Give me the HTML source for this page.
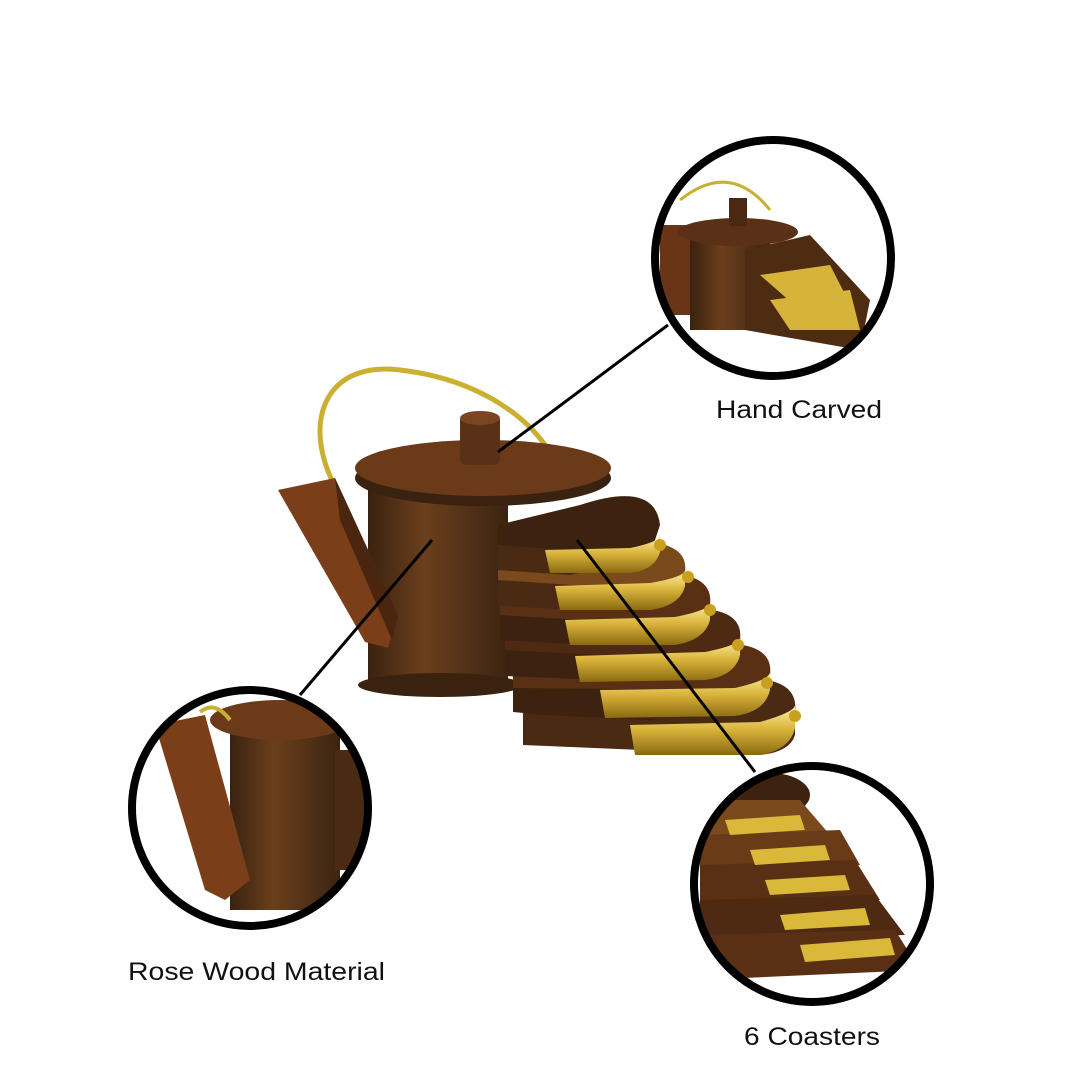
<!DOCTYPE html>
<html><head><style>
html,body{margin:0;padding:0;background:#fff;}
svg{display:block}
text{font-family:"Liberation Sans",sans-serif;font-size:25px;fill:#111}
</style></head><body>
<svg width="1080" height="1080" viewBox="0 0 1080 1080">
<defs>
<linearGradient id="wood" x1="0" x2="1" y1="0" y2="0">
<stop offset="0" stop-color="#3a2210"/><stop offset="0.4" stop-color="#6b3f1c"/><stop offset="1" stop-color="#3b2412"/></linearGradient>
<linearGradient id="gold" x1="0" x2="0" y1="0" y2="1">
<stop offset="0" stop-color="#fff4a0"/><stop offset="0.5" stop-color="#d8b23a"/><stop offset="1" stop-color="#8a6a10"/></linearGradient>
<clipPath id="c1"><circle cx="773" cy="258" r="118"/></clipPath>
<clipPath id="c2"><circle cx="250" cy="808" r="118"/></clipPath>
<clipPath id="c3"><circle cx="812" cy="884" r="118"/></clipPath>
</defs>
<rect width="1080" height="1080" fill="#fff"/>
<!-- handle -->
<path d="M340,495 C300,430 320,360 400,370 C470,378 520,410 545,445" fill="none" stroke="#c9b030" stroke-width="5"/>
<!-- body -->
<rect x="368" y="480" width="140" height="205" fill="url(#wood)"/>
<ellipse cx="440" cy="685" rx="82" ry="12" fill="#3a2210"/>
<!-- spout -->
<path d="M278,490 L335,478 L398,615 L388,648 L365,642 Z" fill="#7a3e18"/>
<path d="M335,478 L398,615 L392,640 L340,520 Z" fill="#4a2510"/>
<!-- lid -->
<ellipse cx="483" cy="478" rx="128" ry="28" fill="#3a2210"/>
<ellipse cx="483" cy="468" rx="128" ry="28" fill="#6b3a18"/>
<rect x="460" y="415" width="40" height="50" rx="6" fill="#5a3016"/>
<ellipse cx="480" cy="418" rx="20" ry="7" fill="#7a4520"/>
<!-- coasters: bottom first -->
<g>
<!-- i=5 y=680 L=523 R=795 -->
<path d="M523,690 L725,680 Q800,672 795,712 L785,738 L523,738 Z" fill="#4a2a12"/>
<path d="M523,712 L760,712 Q795,705 795,712 L795,735 Q790,752 760,755 L523,745 Z" fill="#4a2a12"/>
<path d="M630,725 L760,722 Q795,712 795,705 L795,728 Q790,750 760,755 L635,755 Z" fill="url(#gold)"/>
<!-- i=4 -->
<path d="M513,655 L700,645 Q775,637 770,675 L760,700 L513,700 Z" fill="#5a3015"/>
<path d="M513,680 L513,712 L545,715 L650,720 L760,700 L760,690 L513,688 Z" fill="#3e2210"/>
<path d="M600,690 L735,688 Q770,680 770,672 L770,690 Q765,712 735,716 L605,718 Z" fill="url(#gold)"/>
<!-- i=3 -->
<path d="M505,620 L670,610 Q745,602 740,640 L730,660 L505,662 Z" fill="#4e2a12"/>
<path d="M505,645 L505,676 L600,680 L730,662 L505,650 Z" fill="#3e2210"/>
<path d="M575,656 L705,652 Q740,645 740,638 L740,655 Q735,676 705,680 L580,682 Z" fill="url(#gold)"/>
<!-- i=2 -->
<path d="M500,585 L640,575 Q715,567 710,605 L700,625 L500,627 Z" fill="#5a3015"/>
<path d="M500,610 L500,640 L590,645 L700,627 L500,615 Z" fill="#3e2210"/>
<path d="M565,620 L675,617 Q710,610 710,603 L710,620 Q705,640 675,645 L570,645 Z" fill="url(#gold)"/>
<!-- i=1 -->
<path d="M498,552 L610,543 Q690,535 685,572 L675,590 L498,592 Z" fill="#7a4a1c"/>
<path d="M498,575 L498,606 L580,610 L675,592 L498,580 Z" fill="#4a2a12"/>
<path d="M555,586 L650,583 Q685,577 685,570 L685,586 Q680,606 650,610 L560,610 Z" fill="url(#gold)"/>
<!-- i=0 -->
<path d="M498,525 L580,505 Q655,480 660,525 L650,555 L498,558 Z" fill="#3e2210"/>
<path d="M498,540 L498,570 L570,575 L650,556 L498,545 Z" fill="#4a2a12"/>
<path d="M545,550 L630,548 Q660,542 660,535 L660,552 Q655,570 630,573 L550,573 Z" fill="url(#gold)"/>
</g>
<!-- knobs -->
<g fill="#c9a020">
<circle cx="660" cy="545" r="6"/><circle cx="688" cy="577" r="6"/><circle cx="710" cy="610" r="6"/>
<circle cx="738" cy="645" r="6"/><circle cx="767" cy="683" r="6"/><circle cx="795" cy="716" r="6"/></g>
<!-- connector lines -->
<line x1="498" y1="452" x2="668" y2="325" stroke="#000" stroke-width="3"/>
<line x1="300" y1="695" x2="432" y2="540" stroke="#000" stroke-width="3"/>
<line x1="577" y1="540" x2="755" y2="772" stroke="#000" stroke-width="3"/>
<!-- circle 1 -->
<g clip-path="url(#c1)">
<rect x="660" y="225" width="30" height="90" fill="#6a3516"/>
<rect x="690" y="230" width="80" height="100" fill="url(#wood)"/>
<ellipse cx="738" cy="232" rx="60" ry="14" fill="#5a3016"/>
<rect x="729" y="198" width="18" height="28" fill="#4a2812"/>
<path d="M745,250 L810,235 L870,300 L860,350 L745,330 Z" fill="#4e2c12"/>
<path d="M760,275 L830,265 L848,300 L800,310 Z M770,300 L850,290 L860,330 L790,330 Z" fill="#d6b43a"/>
<path d="M680,200 Q730,160 770,210" fill="none" stroke="#c9b030" stroke-width="3"/>
</g>
<circle cx="773" cy="258" r="118" fill="none" stroke="#000" stroke-width="8"/>
<!-- circle 2 -->
<g clip-path="url(#c2)">
<rect x="230" y="720" width="110" height="190" fill="url(#wood)"/>
<ellipse cx="280" cy="720" rx="70" ry="20" fill="#6b3a18"/>
<path d="M155,725 L205,715 L250,880 L225,900 L205,890 Z" fill="#7a3e18"/>
<rect x="335" y="750" width="40" height="120" fill="#4a2a12"/>
<path d="M200,712 Q215,700 230,720" fill="none" stroke="#c9b030" stroke-width="4"/>
</g>
<circle cx="250" cy="808" r="118" fill="none" stroke="#000" stroke-width="8"/>
<!-- circle 3 -->
<g clip-path="url(#c3)">
<ellipse cx="770" cy="795" rx="40" ry="22" fill="#3e2210"/>
<path d="M700,800 L800,800 L830,835 L700,840 Z" fill="#7a4a1c"/>
<path d="M700,835 L840,830 L860,865 L700,870 Z" fill="#6a3b17"/>
<path d="M700,865 L855,860 L880,900 L700,905 Z" fill="#5a3015"/>
<path d="M700,900 L875,895 L905,935 L700,940 Z" fill="#4e2a12"/>
<path d="M700,935 L895,930 L920,970 L700,980 Z" fill="#5a3015"/>
<g fill="#d9b83a">
<path d="M725,820 L800,815 L805,830 L730,835 Z"/><path d="M750,850 L825,845 L830,860 L755,865 Z"/>
<path d="M765,880 L845,875 L850,890 L770,895 Z"/><path d="M780,915 L865,908 L870,925 L785,930 Z"/>
<path d="M800,945 L890,938 L895,955 L805,962 Z"/></g>
</g>
<circle cx="812" cy="884" r="118" fill="none" stroke="#000" stroke-width="8"/>
<text x="716" y="418" textLength="166" lengthAdjust="spacingAndGlyphs">Hand Carved</text>
<text x="128" y="980" textLength="257" lengthAdjust="spacingAndGlyphs">Rose Wood Material</text>
<text x="744" y="1045" textLength="136" lengthAdjust="spacingAndGlyphs">6 Coasters</text>
</svg>
</body></html>
